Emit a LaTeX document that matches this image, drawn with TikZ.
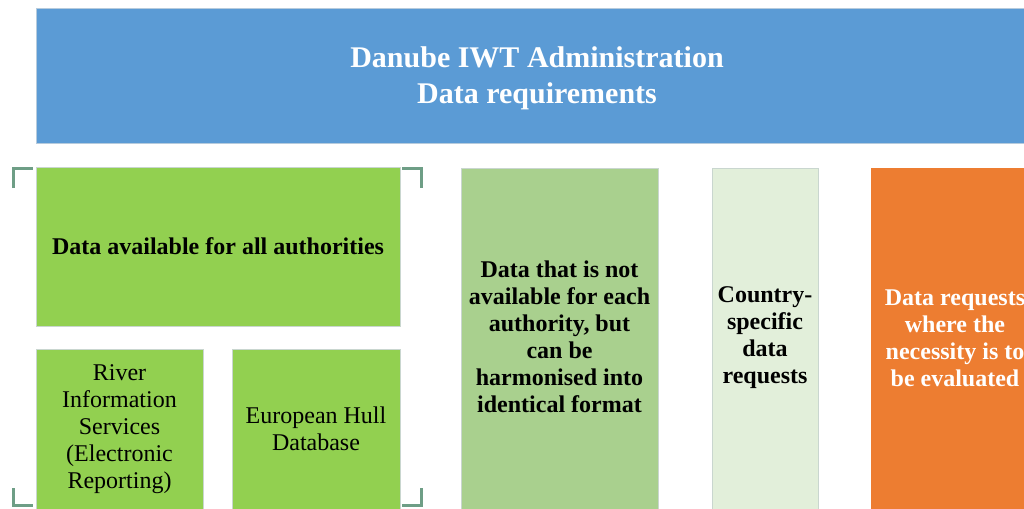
\documentclass[tikz,border=0pt]{standalone}
\usepackage{fontspec}
\setmainfont{Liberation Serif}
\definecolor{hdrblue}{HTML}{5B9BD5}
\definecolor{grn}{HTML}{92D050}
\definecolor{lgrn}{HTML}{A9D08E}
\definecolor{pgrn}{HTML}{E2EFDA}
\definecolor{orng}{HTML}{ED7D31}
\definecolor{brk}{HTML}{6E9E86}
\definecolor{edge}{HTML}{C9D6CF}
\begin{document}
\begin{tikzpicture}[x=1pt,y=-1pt,
  box/.style={rectangle,anchor=north west,inner sep=0pt,align=center,draw=edge,line width=0.6pt},
  brack/.style={draw=brk,line width=3pt,line cap=butt},
  bodytxt/.style={font=\fontsize{24}{27}\selectfont},
  boldtxt/.style={font=\fontsize{24}{27}\selectfont\bfseries}]
\useasboundingbox (0,0) rectangle (1024,508);
\clip (0,0) rectangle (1024,508);
\fill[white] (0,0) rectangle (1024,508);
% header
\node[box,fill=hdrblue,draw=hdrblue!80!black!40,minimum width=1020pt,minimum height=135pt] (hdr) at (36,8) {};
\node[text=white,font=\fontsize{30}{36}\selectfont\bfseries,align=center] (hdrtxt) at (537,78) {Danube IWT Administration\\Data requirements};
% left group
\node[box,fill=grn,minimum width=364pt,minimum height=159pt] (all) at (36,167) {};
\node[boldtxt] (alltxt) at (218,246) {Data available for all authorities};
\node[box,fill=grn,minimum width=167pt,minimum height=170pt] (ris) at (36,349) {};
\node[bodytxt,align=center] (ristxt) at (119.5,429) {River\\Information\\Services\\(Electronic\\Reporting)};
\node[box,fill=grn,minimum width=168pt,minimum height=170pt] (ehd) at (232,349) {};
\node[bodytxt,align=center] (ehdtxt) at (316,429) {European Hull\\Database};
% brackets
\draw[brack] (13,188) -- (13,168.5) -- (33,168.5);
\draw[brack] (402,168.5) -- (421.5,168.5) -- (421.5,188);
\draw[brack] (13,488) -- (13,505) -- (33,505);
\draw[brack] (402,505) -- (421.5,505) -- (421.5,488);
% middle
\node[box,fill=lgrn,minimum width=197pt,minimum height=350pt] (harm) at (461,168) {};
\node[boldtxt,align=center] (harmtxt) at (559.5,337) {Data that is not\\available for each\\authority, but\\can be\\harmonised into\\identical format};
\node[box,fill=pgrn,minimum width=106pt,minimum height=350pt] (cty) at (712,168) {};
\node[boldtxt,align=center] (ctytxt) at (765,338) {Country-\\specific\\data\\requests};
\node[box,fill=orng,draw=orng,minimum width=200pt,minimum height=350pt] (eval) at (871,168) {};
\node[boldtxt,text=white,align=center] (evaltxt) at (955,338) {Data requests\\where the\\necessity is to\\be evaluated};
\end{tikzpicture}
\end{document}
